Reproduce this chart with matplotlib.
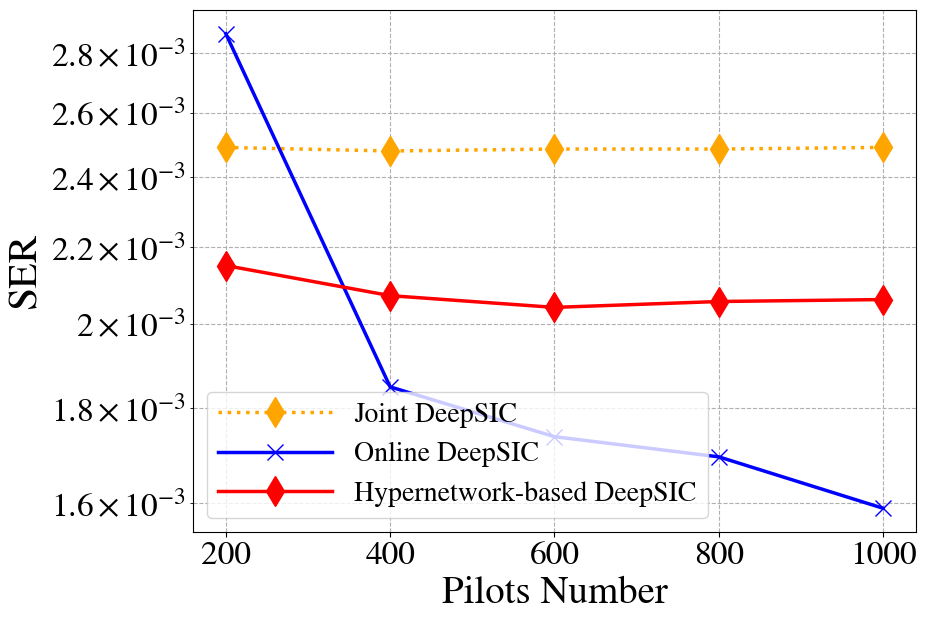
import matplotlib
matplotlib.use("Agg")
import matplotlib.pyplot as plt

plt.rcParams['font.family'] = ['STIXGeneral', 'DejaVu Serif']
plt.rcParams['mathtext.fontset'] = 'stix'

pilots = [200, 400, 600, 800, 1000]
joint_ser = [2.490e-3, 2.479e-3, 2.485e-3, 2.485e-3, 2.490e-3]
online_ser = [2.868e-3, 1.849e-3, 1.738e-3, 1.695e-3, 1.590e-3]
hyper_ser = [2.150e-3, 2.071e-3, 2.041e-3, 2.056e-3, 2.061e-3]

fig = plt.figure(figsize=(9.25, 6.2), dpi=100)
ax = fig.add_axes([0.2086, 0.1419, 0.7817, 0.842])

ax.plot(pilots, joint_ser, linestyle=':', color='orange', marker='d', markersize=15,
        linewidth=2.5, label='Joint DeepSIC')
ax.plot(pilots, online_ser, linestyle='-', color='blue', marker='x', markersize=12,
        linewidth=2.5, label='Online DeepSIC')
ax.plot(pilots, hyper_ser, linestyle='-', color='red', marker='d', markersize=15,
        linewidth=2.5, label='Hypernetwork-based DeepSIC')

ax.set_yscale('log')
ax.grid(True, which='both', linestyle='--', color='#b0b0b0', linewidth=0.8)
ax.tick_params(axis='both', which='both', labelsize=24)
ax.set_xticks(pilots)
ax.set_xlabel('Pilots Number', fontsize=28)
ax.set_ylabel('SER', fontsize=30)
ax.legend(loc='lower left', fontsize=20, handlelength=4.1, labelspacing=0.5)

fig.savefig('out.png', dpi=100)
